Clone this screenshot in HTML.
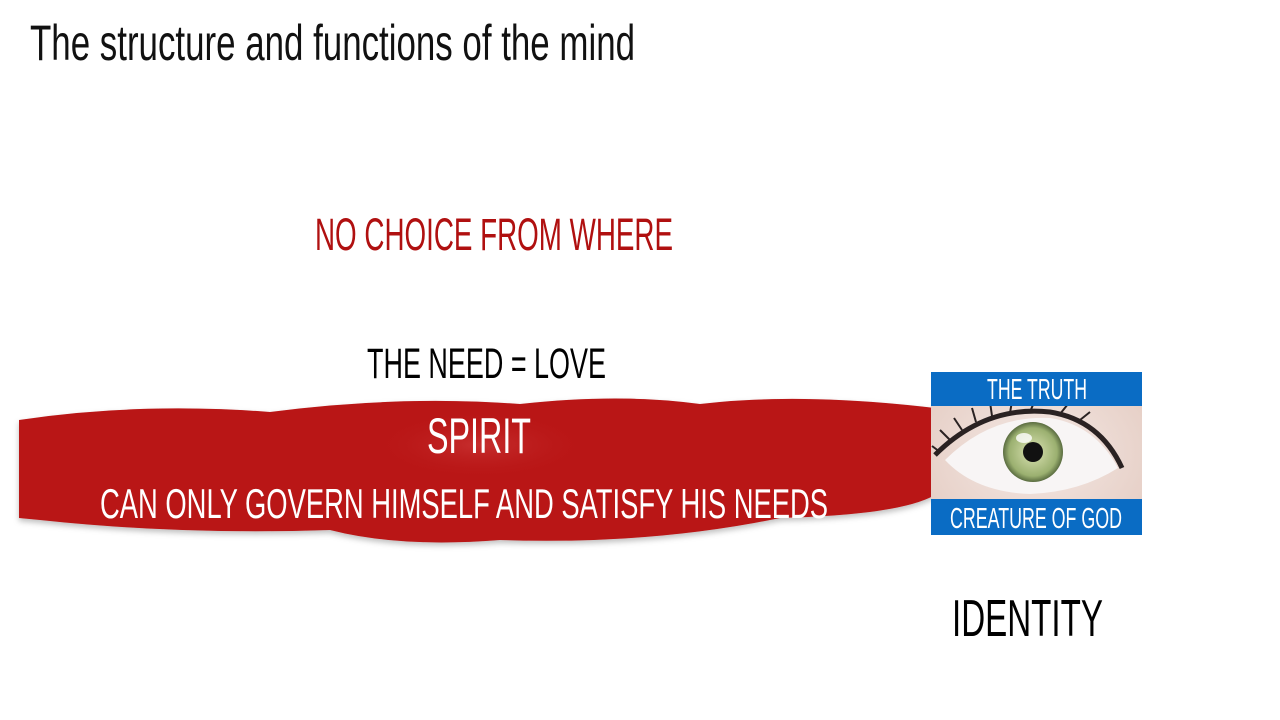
<!DOCTYPE html>
<html><head><meta charset="utf-8"><style>
html,body{margin:0;padding:0;background:#fff;}
svg{display:block;}
text{font-family:"Liberation Sans",sans-serif;}
</style></head><body>
<svg width="1280" height="720" viewBox="0 0 1280 720" xmlns="http://www.w3.org/2000/svg">
<defs>
<filter id="sh" x="-5%" y="-20%" width="110%" height="140%"><feDropShadow dx="0" dy="3" stdDeviation="3" flood-color="#000" flood-opacity="0.25"/></filter>
<radialGradient id="gl" cx="0.5" cy="0.5" r="0.5"><stop offset="0" stop-color="#d04040" stop-opacity="0.6"/><stop offset="1" stop-color="#b91414" stop-opacity="0"/></radialGradient>
<radialGradient id="iris" cx="0.5" cy="0.5" r="0.5"><stop offset="0.3" stop-color="#c3d09a"/><stop offset="0.8" stop-color="#9bb070"/><stop offset="1" stop-color="#5a6c40"/></radialGradient>
<radialGradient id="skin" cx="0.5" cy="0.5" r="0.6"><stop offset="0" stop-color="#f4e8e4"/><stop offset="1" stop-color="#e6cfc6"/></radialGradient>
</defs>
<text x="30" y="60" font-size="50" fill="#111" textLength="605" lengthAdjust="spacingAndGlyphs">The structure and functions of the mind</text>
<text x="315" y="250" font-size="45" fill="#b01010" textLength="358" lengthAdjust="spacingAndGlyphs">NO CHOICE FROM WHERE</text>
<text x="367" y="378" font-size="43" fill="#000" textLength="239" lengthAdjust="spacingAndGlyphs">THE NEED = LOVE</text>
<g filter="url(#sh)" fill="#b91414">
<path d="M19 420 Q140 402 270 412 Q400 395 520 404 Q620 393 700 404 Q800 392 935 408 L935 495 Q900 515 780 518 Q650 545 500 540 Q400 548 330 530 Q180 535 40 520 L19 518 Z"/>
</g>
<ellipse cx="480" cy="445" rx="110" ry="35" fill="url(#gl)"/>
<text x="427" y="453" font-size="50" fill="#fff" textLength="104" lengthAdjust="spacingAndGlyphs">SPIRIT</text>
<text x="100" y="518" font-size="42" fill="#fff" textLength="728" lengthAdjust="spacingAndGlyphs">CAN ONLY GOVERN HIMSELF AND SATISFY HIS NEEDS</text>
<rect x="931" y="372" width="211" height="163" fill="url(#skin)"/>
<path d="M945 460 Q990 415 1050 418 Q1095 425 1118 468 Q1080 492 1030 494 Q975 492 945 460 Z" fill="#f8f5f5"/>
<path d="M935 455 Q985 405 1050 412 Q1100 420 1122 468" fill="none" stroke="#2a2222" stroke-width="5"/>
<path d="M940 452 l-8 -6 M950 440 l-10 -10 M962 430 l-8 -12 M976 422 l-4 -14 M992 416 l-2 -14 M1010 413 l2 -12 M1030 412 l5 -12 M1060 414 l8 -10 M1080 420 l10 -8" stroke="#2a2222" stroke-width="2"/>
<circle cx="1033" cy="452" r="30" fill="url(#iris)"/>
<circle cx="1033" cy="452" r="10" fill="#111"/>
<ellipse cx="1024" cy="438" rx="8" ry="5" fill="#fff" opacity="0.8"/>
<rect x="931" y="372" width="211" height="34" fill="#0a6cc4"/>
<rect x="931" y="499" width="211" height="36" fill="#0a6cc4"/>
<text x="987" y="399" font-size="29" fill="#fff" textLength="100" lengthAdjust="spacingAndGlyphs">THE TRUTH</text>
<text x="950" y="528" font-size="29" fill="#fff" textLength="172" lengthAdjust="spacingAndGlyphs">CREATURE OF GOD</text>
<text x="952" y="636" font-size="52" fill="#000" textLength="151" lengthAdjust="spacingAndGlyphs">IDENTITY</text>
</svg>
</body></html>
